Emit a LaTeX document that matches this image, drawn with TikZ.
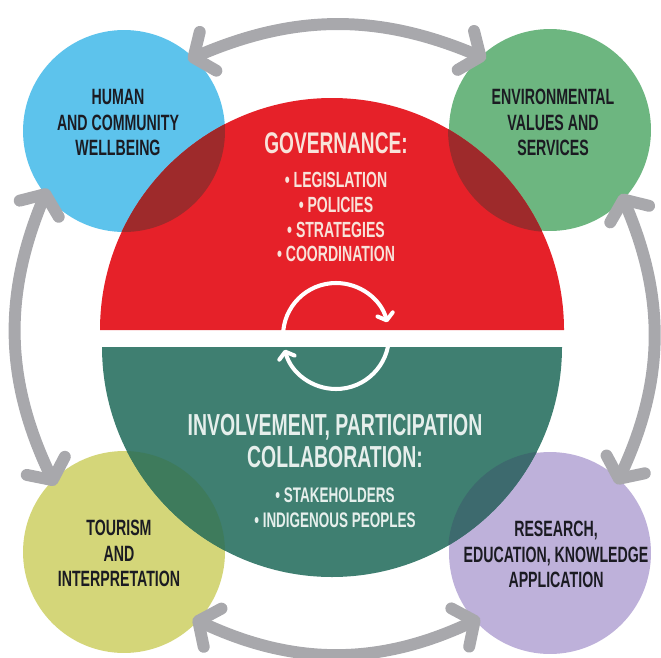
\documentclass[tikz,border=0pt]{standalone}
\usepackage{fontspec}
\setmainfont{Liberation Sans}[FakeStretch=0.64]
\usetikzlibrary{arrows.meta}

\definecolor{govred}{HTML}{E62129}
\definecolor{govdark}{HTML}{9E2A2B}
\definecolor{invteal}{HTML}{3F7F71}
\definecolor{humblue}{HTML}{5DC3EC}
\definecolor{envgreen}{HTML}{6DB680}
\definecolor{touryellow}{HTML}{D4D679}
\definecolor{tourdark}{HTML}{3E7B5C}
\definecolor{respurple}{HTML}{BEB1DA}
\definecolor{resdark}{HTML}{3D6A6E}
\definecolor{linkgray}{HTML}{A8A8AC}
\definecolor{inkdark}{HTML}{1B1B22}
\definecolor{govink}{HTML}{F8E3DA}
\definecolor{invink}{HTML}{E6EFEC}

\tikzset{
    topic/.style={circle, minimum size=4.04cm, inner sep=0pt, outer sep=-3pt},
    topictext/.style={align=center, text=inkdark, font=\bfseries\fontsize{12.6}{14.7}\selectfont},
    headtext/.style={align=center, font=\bfseries\fontsize{17}{17.5}\selectfont},
    bullettext/.style={align=center, font=\bfseries\fontsize{12.5}{14.2}\selectfont},
    linkarrow/.style={draw=linkgray, line width=6.8pt, <->,
        >={Straight Barb[round,length=9pt,width=24pt]}},
    cyclearrow/.style={draw=white, line width=2.3pt,
        -{Straight Barb[round,length=3.5pt,width=9pt]}}
}

\begin{document}
\begin{tikzpicture}[x=0.02cm, y=0.02cm]
    \useasboundingbox (0,0) rectangle (661,657);

    %% outer topics
    \node[topic, fill=humblue]    (hum)  at (124,526) {};
    \node[topic, fill=envgreen]   (env)  at (550,527) {};
    \node[topic, fill=touryellow] (tour) at (124,105) {};
    \node[topic, fill=respurple]  (res)  at (550,104) {};

    %% centre disc, split in two halves
    \coordinate (gov) at (332,327);
    \coordinate (inv) at (332,310);
    \fill[govred]  (gov) ++(0:232) arc (0:180:232) -- cycle;
    \fill[invteal] (inv) ++(180:230) arc (180:360:230) -- cycle;

    %% overlaps
    \foreach \c/\r/\o/\a/\R/\col in {hum/101/gov/0/232/govdark,
                                     env/102/gov/0/232/govdark,
                                     tour/101/inv/180/230/tourdark,
                                     res/102/inv/180/230/resdark} {
        \begin{scope}
            \clip (\c.center) circle (\r);
            \fill[\col] (\o) ++(\a:\R) arc (\a:\a+180:\R) -- cycle;
        \end{scope}
    }

    %% topic labels
    \node[topictext] (humtxt)  at (118,534.5) {HUMAN\\AND COMMUNITY\\WELLBEING};
    \node[topictext] (envtxt)  at (553,534.5) {ENVIRONMENTAL\\VALUES AND\\SERVICES};
    \node[topictext] (tourtxt) at (119,103.5) {TOURISM\\AND\\INTERPRETATION};
    \node[topictext] (restxt)  at (556,102.5) {RESEARCH,\\EDUCATION, KNOWLEDGE\\APPLICATION};

    %% governance half
    \node[headtext, text=govink] (govhead) at (336,514) {GOVERNANCE:};
    \node[bullettext, text=govink] (govlist) at (336,440)
        {\textbullet\ LEGISLATION\\\textbullet\ POLICIES\\\textbullet\ STRATEGIES\\\textbullet\ COORDINATION};

    %% involvement half
    \node[headtext, text=invink, font=\bfseries\fontsize{17.3}{17.8}\selectfont] (invhead) at (335,216)
        {INVOLVEMENT, PARTICIPATION\\COLLABORATION:};
    \node[bullettext, text=invink, font=\bfseries\fontsize{12}{14.2}\selectfont] (invlist) at (335,149.5)
        {\textbullet\ STAKEHOLDERS\\\textbullet\ INDIGENOUS PEOPLES};

    %% cycle in the middle
    \coordinate (cyc) at (336,321);
    \draw[cyclearrow] (cyc) ++(180:53) arc (180:15:53);
    \draw[cyclearrow] (cyc) ++(0:53) arc (0:-165:53);

    %% links between topics
    \draw[linkarrow] (hum.48)   to[bend left=23]  (env.132);
    \draw[linkarrow] (hum.217)  to[bend right=24] (tour.136);
    \draw[linkarrow] (env.-42)  to[bend left=24]  (res.46);
    \draw[linkarrow] (tour.-44) to[bend right=25] (res.223);
\end{tikzpicture}
\end{document}
